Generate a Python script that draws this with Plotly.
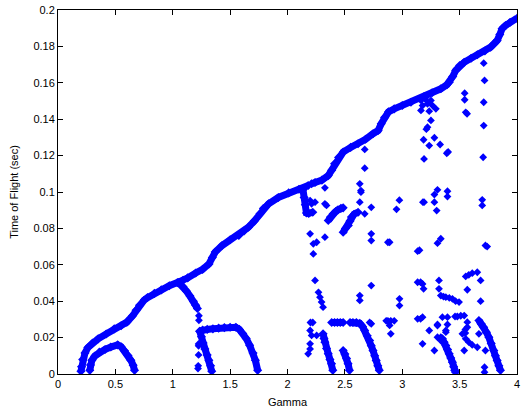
import plotly.graph_objects as go

# Main time-of-flight branch versus gamma
main_gamma = [0.200, 0.205, 0.215, 0.235, 0.26, 0.30, 0.35, 0.42, 0.49, 0.55, 0.60, 0.65, 0.68,
              0.71, 0.75, 0.78, 0.84, 0.90, 0.97, 1.04, 1.09, 1.13, 1.20, 1.26, 1.316, 1.345,
              1.37, 1.43, 1.50, 1.576, 1.62, 1.66, 1.71, 1.76, 1.79, 1.835, 1.92, 2.01, 2.10,
              2.18]
main_tof = [0.0015, 0.004, 0.008, 0.0115, 0.0145, 0.017, 0.0193, 0.022, 0.0248, 0.0265, 0.0285,
            0.032, 0.035, 0.0378, 0.0405, 0.042, 0.0443, 0.0462, 0.0485, 0.0502, 0.0515, 0.0528,
            0.0555, 0.0575, 0.0605, 0.064, 0.067, 0.0706, 0.0738, 0.0761, 0.0785, 0.0807, 0.084,
            0.088, 0.091, 0.0935, 0.097, 0.0995, 0.1015, 0.1036]
main2_gamma = [2.21, 2.24, 2.30, 2.355, 2.385, 2.41, 2.445, 2.485, 2.55, 2.615, 2.68, 2.745,
               2.79, 2.817, 2.846, 2.88, 2.93, 3.00, 3.076, 3.19, 3.26, 3.336, 3.39, 3.41, 3.44,
               3.466, 3.50, 3.54, 3.60, 3.654, 3.72, 3.77, 3.80, 3.827, 3.85, 3.87, 3.90, 3.94,
               4.00]
main2_tof = [0.1045, 0.1052, 0.1065, 0.109, 0.112, 0.1155, 0.119, 0.1219, 0.1245, 0.1265, 0.129,
             0.132, 0.1338, 0.1375, 0.141, 0.144, 0.1457, 0.1475, 0.1493, 0.1525, 0.1545, 0.1567,
             0.159, 0.1603, 0.1635, 0.1668, 0.1695, 0.1713, 0.1735, 0.1754, 0.1775, 0.1796,
             0.1815, 0.1832, 0.1865, 0.1897, 0.1915, 0.1933, 0.1955]

# Secondary continuous branches
arc_a_gamma = [0.277, 0.283, 0.295, 0.32, 0.36, 0.41, 0.46, 0.52, 0.55, 0.58, 0.61, 0.635, 0.655, 0.667]
arc_a_tof = [0.002, 0.005, 0.0075, 0.0098, 0.012, 0.0135, 0.0148, 0.016, 0.015, 0.0128, 0.0102,
             0.0075, 0.0048, 0.002]
arc_b_gamma = [1.05, 1.09, 1.12, 1.15, 1.18, 1.20, 1.215]
arc_b_tof = [0.0502, 0.048, 0.0455, 0.0428, 0.040, 0.0378, 0.036]
arc_c_gamma = [1.235, 1.26, 1.30, 1.35, 1.40, 1.45, 1.50, 1.55, 1.58, 1.61, 1.64, 1.67, 1.70, 1.72, 1.74]
arc_c_tof = [0.0235, 0.0242, 0.0245, 0.0248, 0.0252, 0.0255, 0.0257, 0.0257, 0.0245, 0.0222,
             0.0195, 0.0158, 0.0115, 0.0075, 0.002]
arc_d_gamma = [1.235, 1.25, 1.265, 1.28, 1.30, 1.315, 1.33, 1.34]
arc_d_tof = [0.0235, 0.0205, 0.017, 0.0138, 0.0105, 0.0075, 0.0045, 0.0015]
arc_e_gamma = [2.31, 2.318, 2.326, 2.34, 2.355, 2.37, 2.384, 2.395]
arc_e_tof = [0.0221, 0.0195, 0.0175, 0.014, 0.0111, 0.008, 0.0056, 0.002]
arc_f_gamma = [2.485, 2.50, 2.515, 2.528, 2.54]
arc_f_tof = [0.0129, 0.011, 0.0085, 0.0056, 0.002]
arc_g_gamma = [2.545, 2.57, 2.60, 2.63, 2.655, 2.673, 2.695, 2.716, 2.73, 2.745, 2.76, 2.773, 2.787, 2.80]
arc_g_tof = [0.0283, 0.0283, 0.0283, 0.0278, 0.026, 0.0239, 0.021, 0.0184, 0.0155, 0.0129, 0.010,
             0.0074, 0.0045, 0.002]
arc_h_gamma = [2.385, 2.41, 2.435, 2.46, 2.485]
arc_h_tof = [0.0283, 0.0283, 0.0283, 0.0283, 0.0283]
arc_i_gamma = [2.135, 2.145, 2.155, 2.165, 2.185, 2.22]
arc_i_tof = [0.1012, 0.097, 0.093, 0.0885, 0.0882, 0.0889]
arc_j_gamma = [2.355, 2.375, 2.398, 2.42, 2.44, 2.465, 2.485]
arc_j_tof = [0.0843, 0.0862, 0.088, 0.0893, 0.0902, 0.091, 0.0913]
arc_k_gamma = [2.485, 2.505, 2.53, 2.545, 2.557, 2.58, 2.615]
arc_k_tof = [0.0779, 0.080, 0.0816, 0.084, 0.0862, 0.0878, 0.0889]
arc_l_gamma = [3.35, 3.365, 3.38, 3.395, 3.409, 3.423, 3.437, 3.448, 3.457, 3.465]
arc_l_tof = [0.0193, 0.0175, 0.0157, 0.0134, 0.0111, 0.0088, 0.0065, 0.004, 0.002, 0.001]
arc_m_gamma = [3.668, 3.69, 3.71, 3.733, 3.755, 3.775, 3.798, 3.812, 3.827, 3.842, 3.856]
arc_m_tof = [0.0294, 0.0275, 0.0257, 0.023, 0.0202, 0.0168, 0.0129, 0.010, 0.0074, 0.0045, 0.002]

# Isolated solutions
dots_gamma = [1.228, 1.228, 1.225, 1.225, 1.225, 1.222, 1.22,
              2.197, 2.24, 2.21, 2.326, 2.326, 2.34,
              2.63, 2.64, 2.64, 2.63, 2.673, 2.673, 2.673, 2.73, 2.975, 2.95,
              2.197, 2.225, 2.254, 2.225, 2.326,
              2.24, 2.27, 2.283, 2.297, 2.31,
              2.197, 2.21, 2.197, 2.197, 2.18, 2.254, 2.2, 2.22,
              2.73, 2.73, 2.875, 2.89, 2.73, 2.63, 2.63, 2.976, 2.976,
              2.716, 2.73, 2.86, 2.875, 2.9, 2.93, 2.89, 2.9,
              3.134, 3.16, 3.177, 3.35, 3.394, 3.46, 3.48, 3.51, 3.54,
              3.307, 3.394, 3.235, 3.38, 3.177, 3.28, 3.336, 3.307, 3.336, 3.38, 3.307,
              3.134, 3.16, 3.177, 3.186, 3.32,
              3.32, 3.336, 3.36, 3.38, 3.41, 3.437, 3.465, 3.495,
              3.683, 3.553, 3.58, 3.61, 3.654, 3.567, 3.683,
              3.134, 3.15, 3.336, 3.307, 3.725, 3.74,
              3.18, 3.19, 3.28, 3.28, 3.307, 3.394, 3.394, 3.3, 3.697, 3.697,
              3.163, 3.206, 3.177, 3.22, 3.25, 3.293, 3.163, 3.235, 3.264, 3.2,
              3.25, 3.22, 3.21, 3.186, 3.28, 3.235, 3.33, 3.388, 3.40, 3.19,
              3.544, 3.544, 3.553, 3.565,
              3.71, 3.717, 3.71, 3.71, 3.705,
              3.524, 3.553, 3.58, 3.61, 3.654,
              3.567, 3.567, 3.54, 3.55, 3.55, 3.668, 3.725, 3.717, 3.717]
dots_tof = [0.032, 0.0295, 0.0165, 0.0155, 0.0105, 0.0045, 0.003,
            0.0953, 0.0944, 0.0935, 0.1023, 0.0935, 0.0926,
            0.1045, 0.1008, 0.0999, 0.0944, 0.1234, 0.1131, 0.088, 0.0916, 0.0955, 0.0905,
            0.077, 0.0715, 0.0724, 0.066, 0.0752,
            0.0514, 0.0449, 0.0422, 0.0395, 0.0367,
            0.0239, 0.0212, 0.0166, 0.0138, 0.0111, 0.0212, 0.0283, 0.0283,
            0.077, 0.0733, 0.0724, 0.0724, 0.0486, 0.0431, 0.0404, 0.0413, 0.0376,
            0.0283, 0.0276, 0.0292, 0.0292, 0.0292, 0.0292, 0.0267, 0.0221,
            0.0303, 0.0303, 0.0312, 0.0312, 0.0312, 0.0316, 0.0316, 0.032, 0.0321,
            0.0272, 0.0272, 0.0239, 0.0239, 0.0166, 0.0129, 0.0202, 0.0266, 0.0184, 0.023, 0.0202,
            0.0504, 0.0504, 0.0495, 0.0468, 0.0514,
            0.0468, 0.0431, 0.0425, 0.0422, 0.0418, 0.0413, 0.040, 0.0395,
            0.040, 0.0536, 0.0545, 0.0554, 0.0559, 0.0463, 0.0514,
            0.0675, 0.068, 0.0743, 0.0719, 0.0706, 0.070,
            0.0944, 0.0944, 0.0944, 0.0986, 0.1012, 0.1004, 0.0975, 0.0898, 0.0957, 0.0926,
            0.1503, 0.1521, 0.1475, 0.1485, 0.1503, 0.1457, 0.1448, 0.1444, 0.1475, 0.151,
            0.1393, 0.1356, 0.1345, 0.1287, 0.1298, 0.1255, 0.1261, 0.1213, 0.122, 0.1182,
            0.1543, 0.1507, 0.1438, 0.143,
            0.1708, 0.1613, 0.1493, 0.1365, 0.1191,
            0.0221, 0.0193, 0.0175, 0.016, 0.0147,
            0.0285, 0.0257, 0.0129, 0.0225, 0.0245, 0.0221, 0.0129, 0.0037, 0.001]

x_ticks = [0, 0.5, 1, 1.5, 2, 2.5, 3, 3.5, 4]
x_tick_labels = ["0", "0.5", "1", "1.5", "2", "2.5", "3", "3.5", "4"]
y_ticks = [0, 0.02, 0.04, 0.06, 0.08, 0.1, 0.12, 0.14, 0.16, 0.18, 0.2]
y_tick_labels = ["0", "0.02", "0.04", "0.06", "0.08", "0.1", "0.12", "0.14", "0.16", "0.18", "0.2"]

BLUE = "rgb(0,0,255)"
FONT = "Liberation Sans, Arial, sans-serif"

fig = go.Figure()

branches = [
    (main_gamma, main_tof), (main2_gamma, main2_tof),
    (arc_a_gamma, arc_a_tof), (arc_b_gamma, arc_b_tof), (arc_c_gamma, arc_c_tof),
    (arc_d_gamma, arc_d_tof), (arc_e_gamma, arc_e_tof), (arc_f_gamma, arc_f_tof),
    (arc_g_gamma, arc_g_tof), (arc_h_gamma, arc_h_tof), (arc_i_gamma, arc_i_tof),
    (arc_j_gamma, arc_j_tof), (arc_k_gamma, arc_k_tof), (arc_l_gamma, arc_l_tof),
    (arc_m_gamma, arc_m_tof),
]
for gx, ty in branches:
    fig.add_trace(go.Scatter(
        x=gx, y=ty, mode="lines+markers",
        line=dict(color=BLUE, width=7),
        marker=dict(symbol="diamond", size=7, color=BLUE, line=dict(width=0)),
        showlegend=False, hoverinfo="x+y",
    ))

fig.add_trace(go.Scatter(
    x=dots_gamma, y=dots_tof, mode="markers",
    marker=dict(symbol="diamond", size=6, color=BLUE, line=dict(width=0)),
    showlegend=False, hoverinfo="x+y",
))

axis_common = dict(
    showline=True, linecolor="black", linewidth=1, mirror="ticks",
    ticks="inside", ticklen=5, tickcolor="black", tickwidth=1,
    showgrid=False, zeroline=False, ticklabeloverflow="allow",
    tickfont=dict(family=FONT, size=11, color="black"),
)

fig.update_layout(
    width=523, height=417,
    margin=dict(l=58, r=3, t=10, b=43),
    paper_bgcolor="white", plot_bgcolor="white",
    font=dict(family=FONT, size=11, color="black"),
    xaxis=dict(range=[0, 4], tickvals=x_ticks, ticktext=x_tick_labels,
               title=dict(text="Gamma", font=dict(family=FONT, size=11), standoff=9),
               **axis_common),
    yaxis=dict(range=[0, 0.2], tickvals=y_ticks, ticktext=y_tick_labels,
               title=dict(text="Time of Flight (sec)", font=dict(family=FONT, size=11), standoff=12),
               **axis_common),
)

fig.write_html("out.html")
